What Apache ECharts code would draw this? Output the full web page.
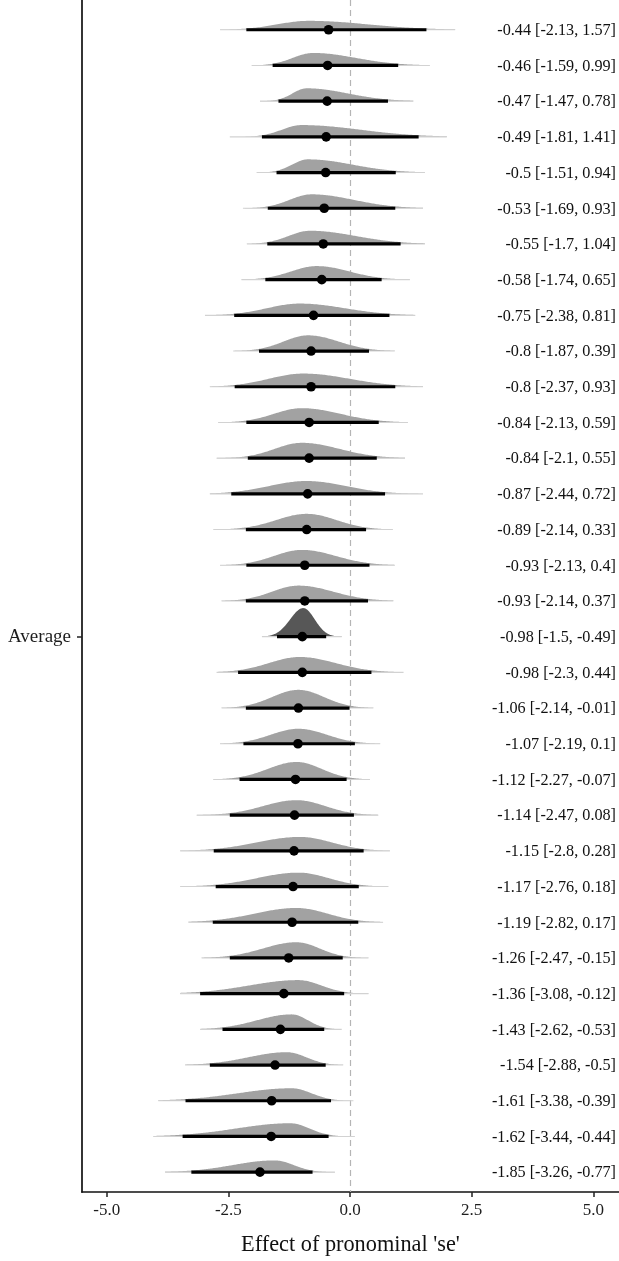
<!DOCTYPE html>
<html>
<head>
<meta charset="utf-8">
<script src="https://cdn.jsdelivr.net/npm/echarts@6/dist/echarts.min.js"></script>
<style>
html,body{margin:0;padding:0;background:#fff;}
#chart{width:619px;height:1261px;}
</style>
</head>
<body>
<div id="chart"></div>
<script>
// ---- data (rows from top to bottom) ----
const medians = [-0.44,-0.46,-0.47,-0.49,-0.5,-0.53,-0.55,-0.58,-0.75,-0.8,-0.8,-0.84,-0.84,-0.87,-0.89,-0.93,-0.93,-0.98,-0.98,-1.06,-1.07,-1.12,-1.14,-1.15,-1.17,-1.19,-1.26,-1.36,-1.43,-1.54,-1.61,-1.62,-1.85];
const ciLo = [-2.13,-1.59,-1.47,-1.81,-1.51,-1.69,-1.7,-1.74,-2.38,-1.87,-2.37,-2.13,-2.1,-2.44,-2.14,-2.13,-2.14,-1.5,-2.3,-2.14,-2.19,-2.27,-2.47,-2.8,-2.76,-2.82,-2.47,-3.08,-2.62,-2.88,-3.38,-3.44,-3.26];
const ciHi = [1.57,0.99,0.78,1.41,0.94,0.93,1.04,0.65,0.81,0.39,0.93,0.59,0.55,0.72,0.33,0.4,0.37,-0.49,0.44,-0.01,0.1,-0.07,0.08,0.28,0.18,0.17,-0.15,-0.12,-0.53,-0.5,-0.39,-0.44,-0.77];
const tailLo = [-2.67,-2.02,-1.85,-2.47,-1.92,-2.2,-2.12,-2.23,-2.98,-2.4,-2.88,-2.71,-2.74,-2.88,-2.81,-2.67,-2.64,-1.81,-2.74,-2.64,-2.67,-2.81,-3.15,-3.49,-3.49,-3.32,-3.05,-3.49,-3.08,-3.39,-3.94,-4.04,-3.8];
const tailHi = [2.16,1.64,1.3,1.99,1.54,1.5,1.54,1.23,1.34,0.92,1.5,1.19,1.13,1.5,0.88,0.92,0.89,-0.17,1.1,0.48,0.62,0.41,0.58,0.82,0.79,0.68,0.38,0.38,-0.17,-0.14,0.07,0.1,-0.31];
const densMode = [-0.85,-0.76,-0.89,-0.99,-0.86,-0.79,-0.82,-0.68,-1.03,-0.86,-0.96,-0.99,-0.99,-0.89,-0.89,-0.99,-1.06,-0.96,-1.03,-1.06,-1.06,-1.1,-1.1,-1.03,-1.06,-1.1,-1.1,-1.06,-1.2,-1.3,-1.2,-1.23,-1.55];
const densPeak = [0.25,0.35,0.36,0.33,0.37,0.39,0.37,0.38,0.33,0.44,0.37,0.40,0.43,0.36,0.44,0.43,0.43,0.80,0.43,0.51,0.42,0.49,0.42,0.39,0.39,0.40,0.44,0.38,0.42,0.36,0.35,0.37,0.33];
const averageRow = 17;
const averageLabel = 'Average';
const xTicks = [-5, -2.5, 0, 2.5, 5];
const xTitle = "Effect of pronominal 'se'";

const FONT = 'Liberation Serif';
const rows = medians.map((m, i) => [m, i]);

function renderItem(params, api) {
  const i = api.value(1);
  const base = api.coord([0, i])[1];
  const unit = api.size([0, 1])[1];
  const lo = tailLo[i], hi = tailHi[i], mode = densMode[i];
  const sL = (mode - ciLo[i]) / 2, sR = (ciHi[i] - mode) / 2;
  const hPx = densPeak[i] * unit;
  const pts = [];
  const n = 160;
  pts.push([api.coord([lo, i])[0], base]);
  for (let k = 0; k <= n; k++) {
    const x = lo + (hi - lo) * k / n;
    const s = x < mode ? sL : sR;
    const g = Math.exp(-0.5 * Math.pow((x - mode) / s, 2));
    pts.push([api.coord([x, i])[0], base - hPx * g]);
  }
  pts.push([api.coord([hi, i])[0], base]);
  const isAvg = i === averageRow;
  const m = api.coord([medians[i], i]);
  const label = medians[i] + ' [' + ciLo[i] + ', ' + ciHi[i] + ']';
  return {
    type: 'group',
    children: [
      { type: 'polygon', shape: { points: pts }, style: { fill: isAvg ? '#575757' : '#a2a2a2' } },
      { type: 'line', shape: { x1: api.coord([lo, i])[0], y1: base, x2: api.coord([hi, i])[0], y2: base },
        style: { stroke: '#d2d2d2', lineWidth: 1.1 } },
      { type: 'line', shape: { x1: api.coord([ciLo[i], i])[0], y1: base, x2: api.coord([ciHi[i], i])[0], y2: base },
        style: { stroke: '#000', lineWidth: 3.2 } },
      { type: 'circle', shape: { cx: m[0], cy: base, r: 4.8 }, style: { fill: '#000' } },
      { type: 'text', x: api.getWidth() - 3, y: base + 1,
        style: { text: label, fill: '#111', font: '16.2px "' + FONT + '"', align: 'right', verticalAlign: 'middle' } }
    ]
  };
}

const chart = echarts.init(document.getElementById('chart'), null, { renderer: 'canvas' });
chart.setOption({
  animation: false,
  backgroundColor: '#fff',
  grid: { left: 82, right: 0, top: 0, bottom: 59, containLabel: false },
  xAxis: {
    type: 'value', min: -5.507, max: 5.527,
    name: xTitle, nameLocation: 'middle', nameGap: 42,
    nameTextStyle: { fontFamily: FONT, fontSize: 22.3, color: '#111' },
    axisLine: { show: true, onZero: false, lineStyle: { color: '#111', width: 1.7 } },
    axisTick: { show: true, length: 5, customValues: xTicks, lineStyle: { color: '#222', width: 1.5 } },
    axisLabel: { customValues: xTicks, formatter: v => v.toFixed(1), fontFamily: FONT, fontSize: 17, color: '#1e1e1e', margin: 10 },
    splitLine: { show: false }
  },
  yAxis: {
    type: 'value', inverse: true, min: -0.8333, max: 32.5556,
    axisLine: { show: true, onZero: false, lineStyle: { color: '#111', width: 1.7 } },
    axisTick: { show: true, length: 5, customValues: [averageRow], lineStyle: { color: '#222', width: 1.5 } },
    axisLabel: { customValues: [averageRow], formatter: () => averageLabel, fontFamily: FONT, fontSize: 19, color: '#1e1e1e', margin: 11 },
    splitLine: { show: false }
  },
  series: [{
    type: 'custom',
    renderItem: renderItem,
    encode: { x: 0, y: 1 },
    data: rows,
    clip: false,
    markLine: {
      silent: true, symbol: 'none', z: 1,
      label: { show: false },
      lineStyle: { type: [6, 4], color: '#b5b5b5', width: 1.2 },
      data: [{ xAxis: 0 }]
    }
  }]
});
</script>
</body>
</html>
